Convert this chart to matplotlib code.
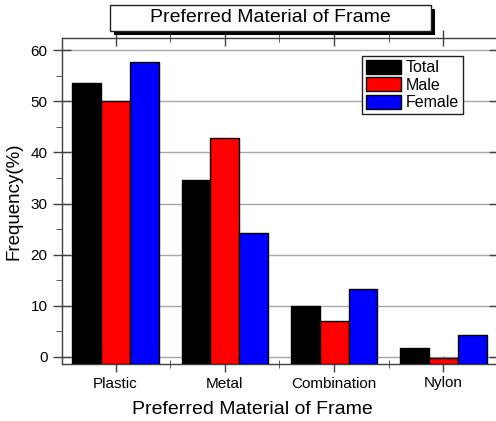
import numpy as np
import matplotlib
matplotlib.use("Agg")
import matplotlib.pyplot as plt
from matplotlib.patches import Rectangle
from matplotlib.ticker import MultipleLocator

plt.rcParams['font.family'] = ['Liberation Sans', 'DejaVu Sans']

categories = ['Plastic', 'Metal', 'Combination', 'Nylon']
total = [53.5, 34.6, 9.9, 1.8]
male = [50.0, 42.9, 7.1, -0.2]
female = [57.7, 24.3, 13.2, 4.2]
series_names = ['Total', 'Male', 'Female']
series_colors = ['#000000', '#ff0000', '#0000ff']

W, H = 496, 421
fig = plt.figure(figsize=(W / 100, H / 100), dpi=100)

# axes box in pixel coords (left, top, right, bottom)
L, T, R, B = 62, 38, 498, 364
ax = fig.add_axes([L / W, (H - B) / H, (R - L) / W, (B - T) / H])

ymin, ymax = -1.4, 62.4
x = np.arange(1, len(categories) + 1)
bw = 0.264
for i, (vals, name, col) in enumerate(zip([total, male, female], series_names, series_colors)):
    vals = np.array(vals)
    ax.bar(x + (i - 1) * bw, vals - ymin, bw, bottom=ymin, color=col,
           edgecolor='black', linewidth=1, label=name, zorder=3)

ax.set_xlim(0.51, 0.51 + (R - L) / 110)
ax.set_ylim(ymin, ymax)
ax.set_xticks(x)
ax.set_xticklabels(categories, fontsize=11)
ax.set_xticks(x + 0.5, minor=True)
ax.yaxis.set_major_locator(MultipleLocator(10))
ax.yaxis.set_minor_locator(MultipleLocator(5))
ax.tick_params(axis='y', labelsize=11)

ax.grid(axis='y', color='#a8a8a8', linewidth=1, zorder=0)
ax.set_axisbelow(True)

for s in ax.spines.values():
    s.set_color('#404040')
    s.set_linewidth(1)

ax.tick_params(axis='both', which='major', color='#404040', width=1)
ax.tick_params(axis='y', which='major', direction='inout', length=13, pad=4)
ax.tick_params(axis='y', which='minor', direction='out', length=4, color='#404040')
ax.tick_params(axis='x', which='major', direction='inout', length=12, top=True, pad=3)
ax.tick_params(axis='x', which='minor', direction='inout', length=6, top=True, color='#404040')
ax.tick_params(axis='y', which='both', right=True)

ax.set_xlabel('Preferred Material of Frame', fontsize=14, va='center')
ax.xaxis.set_label_coords((252 - L) / (R - L), (B - 410) / (B - T))
ax.set_ylabel('Frequency(%)', fontsize=13.5, labelpad=6)

leg = ax.legend(loc='upper right', bbox_to_anchor=(0.919, 0.946), fontsize=11.5,
                frameon=True, fancybox=False, edgecolor='#202020', framealpha=1,
                handlelength=2.2, handleheight=1.0, labelspacing=0.12,
                handletextpad=0.3, borderpad=0.25, borderaxespad=0)
leg.get_frame().set_linewidth(1)

# title box with shadow
def px_rect(x0, y0, x1, y1, **kw):
    return Rectangle((x0 / W, 1 - y1 / H), (x1 - x0) / W, (y1 - y0) / H,
                     transform=fig.transFigure, **kw)

fig.patches.append(px_rect(114, 9, 435, 35, facecolor='black', edgecolor='none'))
fig.patches.append(px_rect(110, 5, 431, 31, facecolor='white', edgecolor='#202020', linewidth=1))
fig.text((110 + 431) / 2 / W, 1 - 18 / H, 'Preferred Material of Frame',
         fontsize=14, ha='center', va='center')

fig.savefig('out.png', dpi=100)
